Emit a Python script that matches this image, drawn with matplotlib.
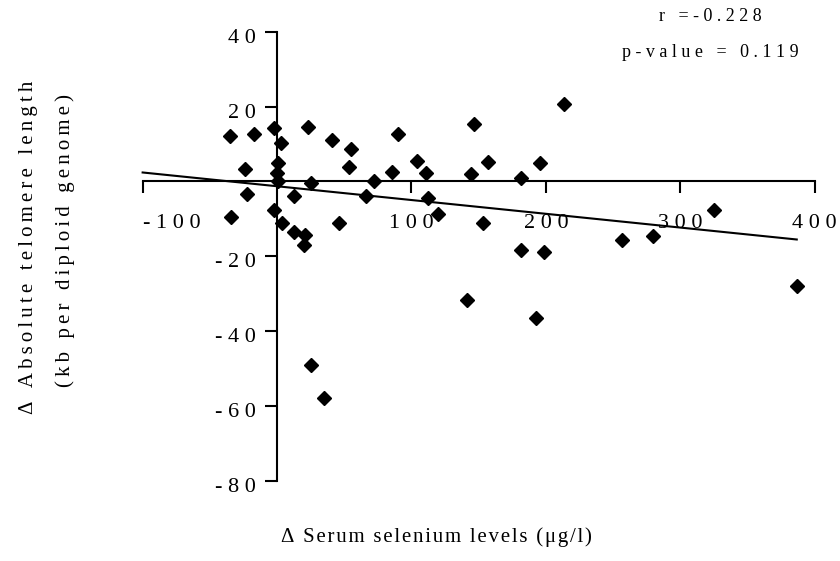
import matplotlib.pyplot as plt
import matplotlib.transforms as mtrans

plt.rcParams['font.family'] = ['Liberation Serif', 'DejaVu Serif']

# change in serum selenium (ug/l) and change in telomere length
selen = [-35.0, -17.1, -2.2, 2.8, 22.8, 41.1, -23.8, 0.5, -0.2, 0.5,
         25.1, -22.5, 12.9, -34.2, -2.2, 3.5, 12.9, 20.8, 20.3, 46.4,
         54.8, 53.6, 89.8, 85.8, 103.9, 72.4, 66.2, 146.6, 110.9, 156.8,
         144.1, 112.1, 119.6, 153.5, 213.8, 195.7, 181.5, 181.5, 198.9, 141.6,
         192.7, 25.1, 35.0, 256.9, 280.0, 325.1, 386.7]
telo = [12.1, 12.6, 14.2, 10.4, 14.6, 11.2, 3.2, 5.0, 2.3, 0.2,
        -0.3, -3.4, -3.9, -9.5, -7.7, -11.1, -13.5, -14.4, -17.0, -11.1,
        8.6, 3.9, 12.6, 2.6, 5.5, 0.2, -3.9, 15.3, 2.3, 5.2,
        2.1, -4.3, -8.7, -11.0, 20.8, 5.0, 0.8, -18.3, -18.8, -31.7,
        -36.4, -49.1, -57.8, -15.7, -14.5, -7.7, -28.0]

# regression line ends
fit_x = [-100, 386.7]
fit_y = [2.4, -15.5]

x_ticks = [-100, 100, 200, 300, 400]
y_ticks = [40, 20, -20, -40, -60, -80]


def sperr(s, sep=' '):
    # wide letter spacing like the original
    return sep.join(list(s))


fig = plt.figure(figsize=(8.4, 5.61), dpi=100)
ax = fig.add_axes([0.1698, 0.1426, 0.8, 0.8009])

ax.plot(fit_x, fit_y, color='black', lw=1.5, clip_on=False)
ax.plot(selen, telo, 'D', color='black', ms=7, clip_on=False)

ax.set_xlim(-100, 400)
ax.set_ylim(-80, 40)

ax.spines['left'].set_position(('data', 0))
ax.spines['bottom'].set_position(('data', 0))
ax.spines['top'].set_visible(False)
ax.spines['right'].set_visible(False)
ax.spines['left'].set_linewidth(1.5)
ax.spines['bottom'].set_linewidth(1.5)

ax.set_xticks(x_ticks)
ax.set_xticklabels([sperr(str(t)) for t in x_ticks])
ax.set_yticks(y_ticks)
ax.set_yticklabels([sperr(str(t)) for t in y_ticks])
ax.tick_params(axis='both', direction='out', length=8.5, width=1.5,
               labelsize=16)
ax.tick_params(axis='x', pad=15)
ax.tick_params(axis='y', pad=7)
ax.get_xticklabels()[0].set_ha('left')
# y labels sit a little below their ticks in the original
nach_unten = mtrans.ScaledTranslation(0, -0.04, fig.dpi_scale_trans)
for lab in ax.get_yticklabels():
    lab.set_transform(lab.get_transform() + nach_unten)
ax.patch.set_visible(False)

ts = '\u2009'
fig.text(0.519, 0.043, sperr('\u0394 Serum selenium levels (\u03bcg/l)', '\u200a'),
         ha='center', va='center', fontsize=15)
fig.text(0.034, 0.56, sperr('\u0394 Absolute telomere length', ts),
         ha='center', va='center', rotation=90, fontsize=15)
fig.text(0.078, 0.572, sperr('(kb per diploid genome)', ts),
         ha='center', va='center', rotation=90, fontsize=15)

fig.text(0.846, 0.970, sperr('r =-0.228'), ha='center', va='center', fontsize=13)
fig.text(0.846, 0.907, sperr('p-value = 0.119'), ha='center', va='center', fontsize=13)

plt.savefig('out.png', dpi=100)
